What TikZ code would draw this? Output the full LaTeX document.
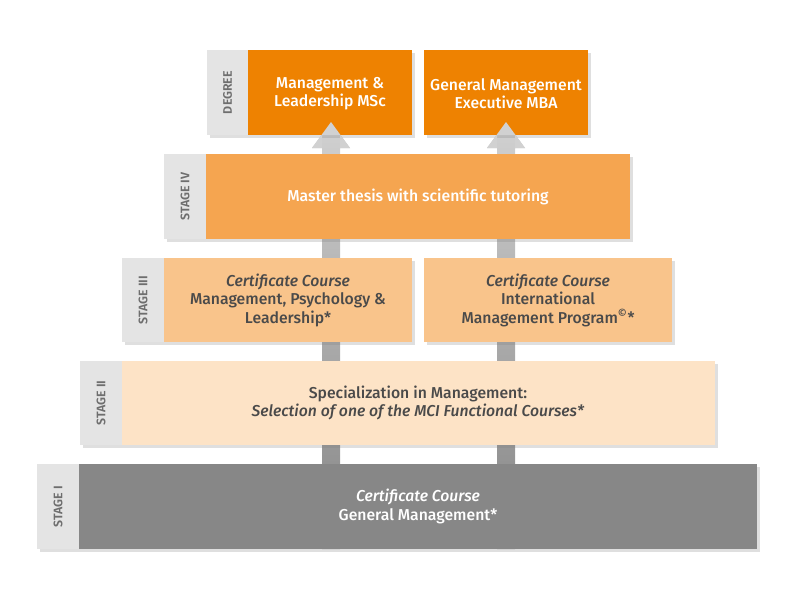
\documentclass[tikz,border=0pt]{standalone}
\usepackage{fontspec}
\setmainfont{Fira Sans}[BoldFont={Fira Sans Medium},BoldItalicFont={Fira Sans Medium Italic}]
\newfontfamily\tagfont{Fira Sans SemiBold}
\usetikzlibrary{shadows}
\definecolor{degreeorange}{HTML}{EE8201}
\definecolor{stagefour}{HTML}{F5A550}
\definecolor{stagethree}{HTML}{F9C48B}
\definecolor{stagetwo}{HTML}{FDE3C6}
\definecolor{stageone}{HTML}{878787}
\definecolor{taggray}{HTML}{E4E4E4}
\definecolor{tagtext}{HTML}{6E6E6E}
\definecolor{boxtext}{HTML}{4A4A4A}

\begin{document}
\begin{tikzpicture}[x=0.025cm,y=-0.025cm,
  shadowed/.style={drop shadow={opacity=0.25,shadow xshift=2pt,shadow yshift=-2pt}},
  boxtxt/.style={align=center, font=\fontsize{11.2}{13.2}\selectfont\bfseries},
  tag/.style={text=tagtext, rotate=90, font=\fontsize{8.8}{10}\selectfont\tagfont},
  shaft/.style={top color=black!18, bottom color=black!48, draw=none}]
  \useasboundingbox (0,0) rectangle (794,595);

  % arrows behind the stages
  \foreach \c in {331,506} {
      \shade[shaft] (\c-9,549) -- (\c-9,148) -- (\c-19,148) -- (\c,122)
        -- (\c+19,148) -- (\c+9,148) -- (\c+9,549) -- cycle;
    }

  % stage I
  \fill[stageone, shadowed] (37,464) rectangle (757,549);
  \fill[taggray] (37,464) rectangle (79,549);
  \node[tag] (tagone) at (58,506.5) {STAGE I};
  \node[boxtxt, text=white] (one) at (418,506.5)
    {\textit{Certificate Course}\\General Management*};

  % stage II
  \fill[stagetwo, shadowed] (80,361) rectangle (715,445);
  \fill[taggray] (80,361) rectangle (122,445);
  \node[tag] (tagtwo) at (101,403) {STAGE II};
  \node[boxtxt, text=boxtext] (two) at (418,403)
    {Specialization in Management:\\\textit{Selection of one of the MCI Functional Courses*}};

  % stage III
  \fill[stagethree, shadowed] (122,258) rectangle (412,342);
  \fill[stagethree, shadowed] (424,258) rectangle (672,342);
  \fill[taggray] (122,258) rectangle (164,342);
  \node[tag] (tagthree) at (143,300) {STAGE III};
  \node[boxtxt, text=boxtext] (threea) at (288,300)
    {\textit{Certificate Course}\\Management, Psychology \&\\Leadership*};
  \node[boxtxt, text=boxtext] (threeb) at (548,300)
    {\textit{Certificate Course}\\International\\Management Program\textsuperscript{©}*};

  % stage IV
  \fill[stagefour, shadowed] (164,154) rectangle (630,239);
  \fill[taggray] (164,154) rectangle (206,239);
  \node[tag] (tagfour) at (185,196.5) {STAGE IV};
  \node[boxtxt, text=white] (four) at (418,196.5)
    {Master thesis with scientific tutoring};

  % degree
  \fill[degreeorange, shadowed] (207,50) rectangle (412,135);
  \fill[degreeorange, shadowed] (424,50) rectangle (588,135);
  \fill[taggray] (207,50) rectangle (248,135);
  \node[tag] (tagdeg) at (227.5,92.5) {DEGREE};
  \node[boxtxt, text=white] (msc) at (330,93.5)
    {Management \&\\Leadership MSc};
  \node[boxtxt, text=white] (mba) at (506,93.5)
    {General Management\\Executive MBA};

  % arrow heads over the upper boxes
  \foreach \c in {331,506} {
      \fill[black!18] (\c-9,135) -- (\c-9,148) -- (\c-19,148) -- (\c,122)
        -- (\c+19,148) -- (\c+9,148) -- (\c+9,135) -- cycle;
    }
\end{tikzpicture}
\end{document}
